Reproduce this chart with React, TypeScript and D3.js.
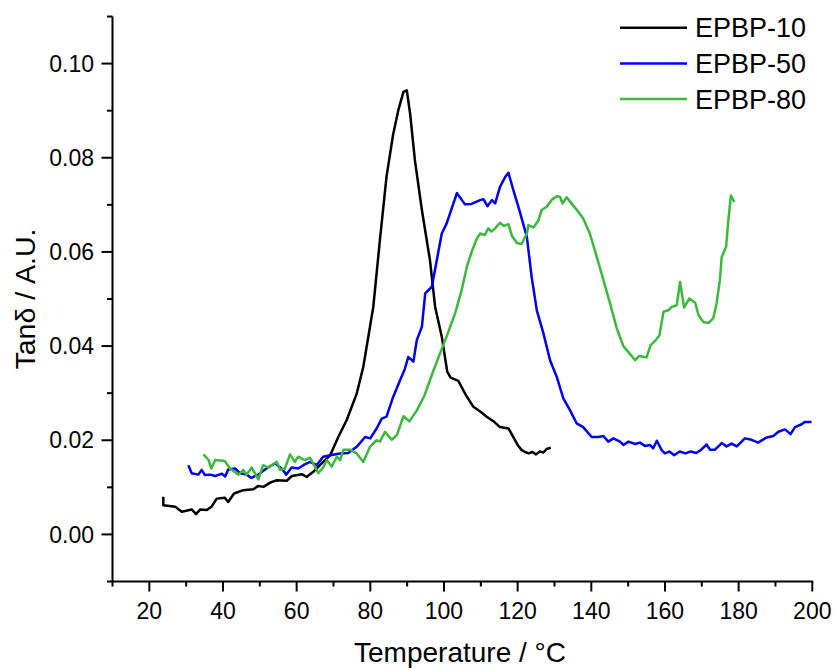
import React from "react";
import * as d3 from "d3";

const seriesNames = ["EPBP-10", "EPBP-50", "EPBP-80"];
const seriesColors = ["#000000", "#0000f0", "#3cb93c"];

const xTicks = [20, 40, 60, 80, 100, 120, 140, 160, 180, 200];
const yTicks = [0.0, 0.02, 0.04, 0.06, 0.08, 0.1];

const tempBlack = [23.8, 23.8, 27.0, 28.8, 31.5, 32.7, 33.8, 35.6, 36.9, 38.3, 40.5, 41.4, 43.0, 45.5, 48.2, 49.6, 51.0, 52.8, 54.6, 57.3, 58.7, 61.4, 62.7, 64.5, 66.8, 69.1, 71.3, 73.6, 76.3, 78.1, 80.8, 82.6, 84.4, 86.2, 87.6, 89.0, 89.9, 90.8, 92.1, 94.0, 96.2, 97.6, 99.4, 100.9, 101.8, 103.9, 106.0, 108.0, 110.0, 111.6, 113.5, 115.2, 117.5, 118.8, 120.0, 121.1, 122.0, 123.0, 124.0, 125.0, 126.0, 127.0, 128.0, 129.0];
const tanBlack = [0.0080, 0.0062, 0.0059, 0.0048, 0.0053, 0.0043, 0.0053, 0.0052, 0.0059, 0.0076, 0.0078, 0.0069, 0.0087, 0.0094, 0.0096, 0.0103, 0.0101, 0.0110, 0.0115, 0.0114, 0.0124, 0.0128, 0.0122, 0.0133, 0.0151, 0.0168, 0.0207, 0.0243, 0.0299, 0.0356, 0.0483, 0.0625, 0.0760, 0.0850, 0.0901, 0.0940, 0.0943, 0.0894, 0.0795, 0.0689, 0.0582, 0.0483, 0.0420, 0.0345, 0.0333, 0.0326, 0.0295, 0.0271, 0.0260, 0.0250, 0.0240, 0.0228, 0.0225, 0.0207, 0.0190, 0.0179, 0.0175, 0.0172, 0.0175, 0.0170, 0.0176, 0.0174, 0.0182, 0.0184];

const tempBlue = [30.6, 31.5, 33.3, 34.2, 35.1, 36.5, 37.9, 39.7, 40.6, 41.4, 43.3, 44.6, 46.4, 47.7, 49.6, 51.8, 54.1, 55.9, 57.2, 58.6, 60.4, 61.8, 63.6, 65.4, 67.2, 69.1, 71.8, 74.0, 76.3, 78.6, 80.0, 81.7, 83.1, 84.4, 86.2, 88.1, 89.4, 90.3, 91.7, 92.6, 94.0, 94.9, 96.7, 99.4, 100.7, 103.5, 105.7, 107.5, 109.8, 110.7, 111.8, 113.0, 113.9, 115.2, 116.6, 117.5, 118.7, 120.6, 122.5, 123.8, 125.2, 127.0, 128.8, 130.6, 132.4, 134.2, 136.0, 137.8, 140.1, 141.9, 143.3, 144.6, 146.0, 147.8, 148.7, 150.1, 151.9, 153.2, 154.6, 155.9, 156.8, 157.8, 159.1, 160.0, 161.2, 162.5, 164.0, 165.5, 167.0, 168.5, 169.7, 171.3, 172.2, 173.6, 175.4, 176.7, 178.1, 179.5, 181.7, 183.5, 185.3, 187.6, 189.4, 190.8, 192.6, 194.1, 195.3, 197.1, 198.0, 199.8];
const tanBlue = [0.0147, 0.0130, 0.0127, 0.0137, 0.0126, 0.0127, 0.0124, 0.0129, 0.0123, 0.0138, 0.0140, 0.0130, 0.0127, 0.0120, 0.0127, 0.0140, 0.0151, 0.0140, 0.0127, 0.0142, 0.0140, 0.0147, 0.0154, 0.0147, 0.0165, 0.0168, 0.0172, 0.0173, 0.0186, 0.0207, 0.0204, 0.0225, 0.0246, 0.0250, 0.0292, 0.0328, 0.0352, 0.0377, 0.0367, 0.0412, 0.0441, 0.0512, 0.0526, 0.0639, 0.0660, 0.0725, 0.0701, 0.0702, 0.0710, 0.0712, 0.0697, 0.0710, 0.0703, 0.0738, 0.0759, 0.0768, 0.0735, 0.0685, 0.0632, 0.0547, 0.0476, 0.0427, 0.0370, 0.0335, 0.0289, 0.0264, 0.0236, 0.0228, 0.0207, 0.0207, 0.0209, 0.0197, 0.0204, 0.0197, 0.0190, 0.0197, 0.0192, 0.0195, 0.0188, 0.0190, 0.0183, 0.0199, 0.0179, 0.0172, 0.0176, 0.0168, 0.0176, 0.0172, 0.0176, 0.0173, 0.0179, 0.0191, 0.0180, 0.0180, 0.0194, 0.0187, 0.0193, 0.0187, 0.0204, 0.0201, 0.0195, 0.0206, 0.0209, 0.0218, 0.0223, 0.0213, 0.0228, 0.0234, 0.0239, 0.0239];

const tempGreen = [34.7, 36.1, 36.8, 37.9, 40.5, 41.9, 44.2, 45.5, 46.4, 47.8, 49.6, 50.9, 52.3, 54.6, 55.5, 56.8, 58.2, 59.5, 60.4, 62.2, 63.6, 65.9, 67.2, 68.2, 69.5, 70.9, 71.8, 72.7, 74.5, 76.3, 78.1, 79.9, 81.7, 82.6, 84.0, 85.8, 87.2, 89.0, 90.6, 92.6, 94.7, 97.0, 98.9, 100.7, 103.0, 104.8, 106.2, 107.5, 108.9, 109.8, 111.1, 112.0, 112.9, 113.9, 115.2, 116.3, 117.5, 118.4, 119.8, 121.1, 122.5, 122.9, 124.3, 125.6, 126.5, 127.9, 129.3, 130.6, 131.5, 132.2, 133.3, 134.7, 136.5, 137.8, 139.6, 141.5, 143.3, 145.1, 146.9, 148.7, 150.3, 151.9, 153.0, 155.0, 156.1, 157.3, 158.5, 159.6, 160.9, 161.8, 163.2, 164.1, 165.2, 166.6, 168.2, 169.1, 170.4, 171.8, 173.1, 174.0, 174.9, 175.4, 176.6, 177.2, 177.9, 178.8];
const tanGreen = [0.0170, 0.0158, 0.0140, 0.0158, 0.0156, 0.0140, 0.0127, 0.0137, 0.0127, 0.0142, 0.0117, 0.0147, 0.0142, 0.0154, 0.0137, 0.0140, 0.0170, 0.0154, 0.0165, 0.0158, 0.0163, 0.0130, 0.0142, 0.0158, 0.0144, 0.0165, 0.0158, 0.0180, 0.0180, 0.0172, 0.0154, 0.0186, 0.0200, 0.0197, 0.0218, 0.0201, 0.0211, 0.0251, 0.0240, 0.0263, 0.0295, 0.0345, 0.0384, 0.0420, 0.0469, 0.0519, 0.0568, 0.0600, 0.0628, 0.0639, 0.0636, 0.0650, 0.0643, 0.0650, 0.0662, 0.0655, 0.0659, 0.0635, 0.0619, 0.0617, 0.0639, 0.0657, 0.0652, 0.0666, 0.0689, 0.0696, 0.0711, 0.0718, 0.0717, 0.0703, 0.0716, 0.0702, 0.0685, 0.0671, 0.0639, 0.0589, 0.0540, 0.0490, 0.0438, 0.0400, 0.0385, 0.0370, 0.0379, 0.0376, 0.0402, 0.0411, 0.0423, 0.0473, 0.0476, 0.0483, 0.0487, 0.0536, 0.0482, 0.0501, 0.0492, 0.0466, 0.0451, 0.0449, 0.0459, 0.0490, 0.0540, 0.0589, 0.0611, 0.0667, 0.0720, 0.0706];

const W = 836;
const H = 670;
const FONT = "'Liberation Sans', Arial, sans-serif";

export default function App() {
  const x = d3.scaleLinear().domain([10, 200]).range([112.5, 812.3]);
  const y = d3.scaleLinear().domain([-0.01, 0.11]).range([581.5, 16.5]);

  const series = [
    { t: tempBlack, v: tanBlack },
    { t: tempBlue, v: tanBlue },
    { t: tempGreen, v: tanGreen },
  ];

  const line = d3
    .line<[number, number]>()
    .x((d) => x(d[0]))
    .y((d) => y(d[1]));

  const xMinor = d3.range(10, 201, 10).filter((v) => !xTicks.includes(v));
  const yMinor = [-0.01, 0.01, 0.03, 0.05, 0.07, 0.09, 0.11];

  const x0 = x(10);
  const y0 = y(-0.01);

  return (
    <svg
      width={W}
      height={H}
      style={{ position: "absolute", left: 0, top: 0, background: "#fff" }}
      fontFamily={FONT}
    >
      <rect x={0} y={0} width={W} height={H} fill="#fff" />
      {series.map((s, i) => (
        <path
          key={i}
          d={line(s.t.map((t, j) => [t, s.v[j]] as [number, number])) || ""}
          fill="none"
          stroke={seriesColors[i]}
          strokeWidth={2.5}
          strokeLinejoin="round"
        />
      ))}

      {/* axes */}
      <line x1={x0} x2={x(200) + 1} y1={y0} y2={y0} stroke="#000" strokeWidth={2} />
      <line x1={x0} x2={x0} y1={y(0.11)} y2={y0 + 1} stroke="#000" strokeWidth={2} />

      {xTicks.map((t) => (
        <g key={"xt" + t}>
          <line x1={x(t)} x2={x(t)} y1={y0} y2={y0 + 10} stroke="#000" strokeWidth={2} />
          <text x={x(t)} y={619} fontSize={23} textAnchor="middle" fill="#000">
            {t}
          </text>
        </g>
      ))}
      {xMinor.map((t) => (
        <line key={"xm" + t} x1={x(t)} x2={x(t)} y1={y0} y2={y0 + 5} stroke="#000" strokeWidth={2} />
      ))}

      {yTicks.map((t) => (
        <g key={"yt" + t}>
          <line x1={x0 - 11} x2={x0} y1={y(t)} y2={y(t)} stroke="#000" strokeWidth={2} />
          <text x={94} y={y(t) + 8.2} fontSize={23} textAnchor="end" fill="#000">
            {t.toFixed(2)}
          </text>
        </g>
      ))}
      {yMinor.map((t) => (
        <line key={"ym" + t} x1={x0 - 5.5} x2={x0} y1={y(t)} y2={y(t)} stroke="#000" strokeWidth={2} />
      ))}

      <text x={460} y={662} fontSize={28} textAnchor="middle" fill="#000">
        Temperature / °C
      </text>
      <text
        transform={`translate(35, 299) rotate(-90)`}
        fontSize={28.5}
        textAnchor="middle"
        fill="#000"
      >
        Tanδ / A.U.
      </text>

      {/* legend */}
      {seriesNames.map((n, i) => {
        const ly = 27.7 + i * 35.7;
        return (
          <g key={n}>
            <line x1={620} x2={687} y1={ly} y2={ly} stroke={seriesColors[i]} strokeWidth={2.5} />
            <text x={695} y={ly + 9.5} fontSize={27} fill="#000">
              {n}
            </text>
          </g>
        );
      })}
    </svg>
  );
}
